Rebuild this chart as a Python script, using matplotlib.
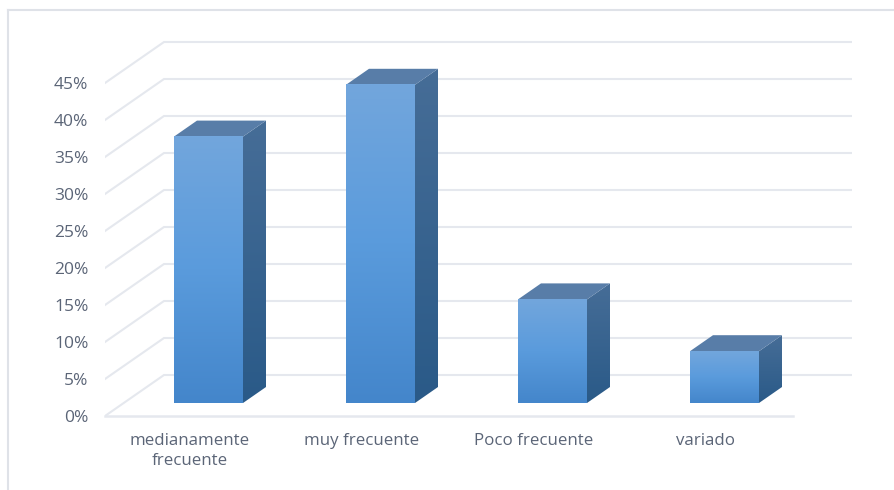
import numpy as np
import matplotlib
matplotlib.use("Agg")
import matplotlib.pyplot as plt
from matplotlib.colors import LinearSegmentedColormap
from matplotlib.lines import Line2D
from matplotlib.patches import Polygon

# datos del grafico
categorias = ["medianamente\nfrecuente", "muy frecuente", "Poco frecuente", "variado"]
valores = [36, 43, 14, 7]
ticks_y = [0, 5, 10, 15, 20, 25, 30, 35, 40, 45]

W, H = 894, 490
PX_X = 172.0   # px por categoria
PX_Y = 7.4     # px por 1%
plt.rcParams["font.family"] = ["Open Sans", "DejaVu Sans"]

fig = plt.figure(figsize=(W / 100, H / 100), dpi=100)
x0, x1, y0, y1 = 105, 852, 416, 38
ax = fig.add_axes([x0 / W, 1 - y0 / H, (x1 - x0) / W, (y0 - y1) / H])
ax.set_xlim((x0 - 190) / PX_X, (x1 - 190) / PX_X)
ax.set_ylim(0, (y0 - y1) / PX_Y)
for s in ax.spines.values():
    s.set_visible(False)

COL_GRID = "#e5e8ee"
COL_TEXT = "#5b6577"

# pared y suelo
pared_dx = 59 / PX_X
pared_dy = 41 / PX_Y
xa = ax.get_xlim()[0]
xb = ax.get_xlim()[1]
for t in ticks_y:
    ax.plot([xa, xa + pared_dx, xb], [t, t + pared_dy, t + pared_dy],
            color=COL_GRID, lw=1.5, zorder=1, solid_joinstyle="miter")
ax.plot([xa, (793 - 190) / PX_X], [0, 0], color=COL_GRID, lw=1.8, zorder=1, clip_on=False)

# barras 3d
cm_front = LinearSegmentedColormap.from_list("f", ["#72a6dd", "#5a9bdc", "#4486cb"])
cm_side = LinearSegmentedColormap.from_list("s", ["#466d97", "#2a5a88"])
grad = np.linspace(0, 1, 128).reshape(-1, 1)

bar_w = 69 / PX_X
bar_izq = -16 / PX_X
fondo_dx = 23 / PX_X
fondo_dy = 16 / PX_Y
base = 13 / PX_Y

for i, v in enumerate(valores):
    xl = i + bar_izq
    xr = xl + bar_w
    top = base + v
    # lateral
    lado = Polygon([(xr, base), (xr + fondo_dx, base + fondo_dy),
                    (xr + fondo_dx, top + fondo_dy), (xr, top)],
                   closed=True, fc="none", ec="none", transform=ax.transData)
    ax.add_patch(lado)
    im = ax.imshow(grad, extent=[xr, xr + fondo_dx, base, top + fondo_dy], cmap=cm_side,
                   aspect="auto", zorder=3)
    im.set_clip_path(lado)
    # techo
    ax.add_patch(Polygon([(xl, top), (xl + fondo_dx, top + fondo_dy),
                          (xr + fondo_dx, top + fondo_dy), (xr, top)],
                         closed=True, fc="#587da8", ec="none", zorder=3))
    # frente
    ax.imshow(grad, extent=[xl, xr, base, top], cmap=cm_front, aspect="auto", zorder=4)

ax.set_xlim((x0 - 190) / PX_X, (x1 - 190) / PX_X)
ax.set_ylim(0, (y0 - y1) / PX_Y)

ax.set_yticks(ticks_y)
ax.set_yticklabels(["%d%%" % t for t in ticks_y], fontsize=12.5, color=COL_TEXT)
ax.set_xticks(range(len(categorias)))
ax.set_xticklabels(categorias, fontsize=12.2, color=COL_TEXT, linespacing=1.4)
ax.tick_params(axis="both", length=0)
ax.tick_params(axis="y", pad=12)
ax.tick_params(axis="x", pad=12)

# borde de la imagen
col_borde = "#dfe2e8"
fig.add_artist(Line2D([8 / W, 8 / W], [0, 1 - 10 / H], color=col_borde, lw=1.5))
fig.add_artist(Line2D([8 / W, 1], [1 - 10 / H, 1 - 10 / H], color=col_borde, lw=1.5))

fig.savefig("out.png", dpi=100)
